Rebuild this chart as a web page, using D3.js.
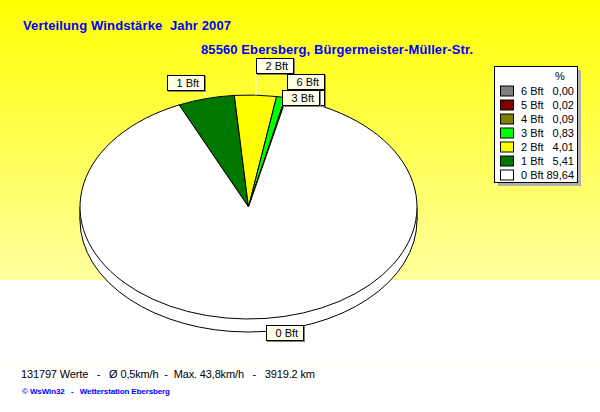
<!DOCTYPE html>
<html><head><meta charset="utf-8">
<script src="https://cdn.jsdelivr.net/npm/d3@7"></script>
<style>html,body{margin:0;padding:0;background:#fff}svg{display:block}
text{font-family:"Liberation Sans",Arial,sans-serif}</style></head>
<body><svg id="c" width="600" height="412"></svg>
<script>
const categories=["1 Bft","2 Bft","3 Bft","4 Bft","5 Bft","6 Bft","0 Bft"];
const values=[5.41,4.01,0.83,0.09,0.02,0.00,89.64];
const valueLabels=["5,41","4,01","0,83","0,09","0,02","0,00","89,64"];
const colors=["#007800","#ffff00","#00ff00","#808000","#800000","#808080","#ffffff"];
const legendOrder=["6 Bft","5 Bft","4 Bft","3 Bft","2 Bft","1 Bft","0 Bft"];
const labelBoxes=[["1 Bft",167,75,206,98],["2 Bft",256,58,256,95],["6 Bft",287,74,283,100],["",287,90,283,100],["3 Bft",282,90,281,106],["0 Bft",266,325,285,319]];

const svg=d3.select("#c");
const defs=svg.append("defs");
const g=defs.append("linearGradient").attr("id","bg").attr("x1",0).attr("x2",0).attr("y1",0).attr("y2",1);
g.append("stop").attr("offset","0%").attr("stop-color","#ffff00");
g.append("stop").attr("offset","100%").attr("stop-color","#ffffa0");
svg.append("rect").attr("width",600).attr("height",412).attr("fill","#ffffff");
svg.append("rect").attr("y",280).attr("width",600).attr("height",83).attr("fill","#fffffd");
svg.append("rect").attr("y",363).attr("width",600).attr("height",1).attr("fill","#fffff0");
svg.append("rect").attr("width",600).attr("height",280).attr("fill","url(#bg)");

const cx=248.5,cy=207,rx=168.5,ry=112,depth=13;
const start=-24.3*Math.PI/180;
const pie=d3.pie().sort(null).startAngle(start).endAngle(start+2*Math.PI);
const arcs=pie(values);
const arc=d3.arc().innerRadius(0).outerRadius(rx);
const tf=(dy)=>`translate(${cx},${cy+dy}) scale(1,${ry/rx})`;
const stroke=(s)=>s.attr("stroke","#000").attr("stroke-width",1).attr("vector-effect","non-scaling-stroke");
// base and side wall
svg.append("path").attr("d",d3.arc().innerRadius(0).outerRadius(rx).startAngle(0).endAngle(2*Math.PI)())
  .attr("transform",tf(depth)).attr("fill","#fff").call(stroke);
svg.append("rect").attr("x",cx-rx).attr("y",cy).attr("width",2*rx).attr("height",depth).attr("fill","#fff");
svg.append("line").attr("x1",cx-rx).attr("x2",cx-rx).attr("y1",cy).attr("y2",cy+depth).call(stroke);
svg.append("line").attr("x1",cx+rx).attr("x2",cx+rx).attr("y1",cy).attr("y2",cy+depth).call(stroke);
// top face
svg.append("g").selectAll("path").data(arcs).join("path")
  .attr("d",arc).attr("transform",tf(0))
  .attr("fill",(d,i)=>colors[i]).call(stroke);

// callouts
labelBoxes.forEach(([t,x,y,lx,ly])=>{
  const w=37,h=15;
  const ax=Math.max(x,Math.min(x+w,lx));
  svg.append("line").attr("x1",lx).attr("y1",ly).attr("x2",ax).attr("y2",y+h/2<ly?y+h:y).attr("stroke","#fff");
  svg.append("rect").attr("x",x+1).attr("y",y+1).attr("width",w+1).attr("height",h+1).attr("fill","#808080");
  svg.append("rect").attr("x",x+.5).attr("y",y+.5).attr("width",w).attr("height",h).attr("fill","#ffffe8").attr("stroke","#000");
  if(t) svg.append("text").attr("x",x+9.5).attr("y",y+12).attr("font-size",11).text(t);
});

// legend
svg.append("rect").attr("x",498).attr("y",70).attr("width",83).attr("height",116).attr("fill","#b0b0b0");
svg.append("rect").attr("x",494.5).attr("y",66.5).attr("width",83).attr("height",116).attr("fill","#fff").attr("stroke","#000");
svg.append("text").attr("x",555).attr("y",80).attr("font-size",11).text("%");
const rowY=d3.scaleBand().domain(legendOrder).range([84,182]);
legendOrder.forEach(t=>{
  const i=categories.indexOf(t),y=rowY(t)+rowY.bandwidth()/2;
  svg.append("rect").attr("x",500.5).attr("y",y-5).attr("width",13).attr("height",10)
    .attr("fill",colors[i]).attr("stroke","#000");
  svg.append("text").attr("x",521).attr("y",y+4).attr("font-size",11).text(t);
  svg.append("text").attr("x",574).attr("y",y+4).attr("font-size",11).attr("text-anchor","end").text(valueLabels[i]);
});

// titles
const fit=(s,n)=>s.attr("textLength",n).attr("lengthAdjust","spacing");
svg.append("text").attr("x",23).attr("y",30).attr("font-size",13).attr("font-weight","bold").attr("fill","#0000ff").style("white-space","pre").text("Verteilung Windstärke  Jahr 2007").call(fit,208);
svg.append("text").attr("x",201).attr("y",54).attr("font-size",13).attr("font-weight","bold").attr("fill","#0000ff").text("85560 Ebersberg, Bürgermeister-Müller-Str.").call(fit,272);
svg.append("text").attr("x",21).attr("y",378).attr("font-size",11).style("white-space","pre").text("131797 Werte   -   Ø 0,5km/h  -  Max. 43,8km/h   -   3919.2 km").call(fit,294);
svg.append("text").attr("x",22).attr("y",394).attr("font-size",8).attr("font-weight","bold").attr("fill","#0000ff").style("white-space","pre").text("© WsWin32   -   Wetterstation Ebersberg").call(fit,148);
</script></body></html>
